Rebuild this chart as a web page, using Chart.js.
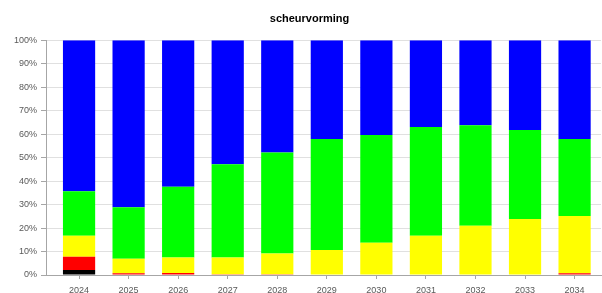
<!DOCTYPE html>
<html>
<head>
<meta charset="utf-8">
<script src="https://cdn.jsdelivr.net/npm/chart.js@4"></script>
<style>
  html, body { margin: 0; padding: 0; background: #fff; }
  #wrap { width: 602px; height: 293px; }
</style>
</head>
<body>
<div id="wrap"><canvas id="graphic"></canvas></div>
<script>
var years = ['2024', '2025', '2026', '2027', '2028', '2029', '2030', '2031', '2032', '2033', '2034'];

// shares in percent, per year, bottom to top
var black  = [2.1, 0, 0, 0, 0, 0, 0, 0, 0, 0, 0];
var red    = [5.7, 0.7, 0.8, 0.3, 0.3, 0.2, 0.2, 0.2, 0.2, 0.2, 0.7];
var yellow = [8.9, 6.2, 6.6, 7.1, 8.9, 10.4, 13.5, 16.5, 20.8, 23.6, 24.4];
var green  = [19.0, 22.0, 30.2, 39.8, 43.0, 47.3, 45.9, 46.3, 42.8, 38.0, 32.8];
var blue   = [64.3, 71.1, 62.4, 52.8, 47.8, 42.1, 40.4, 37.0, 36.2, 38.2, 42.1];

var yTicks = ['0%', '10%', '20%', '30%', '40%', '50%', '60%', '70%', '80%', '90%', '100%'];

Chart.defaults.font.family = 'Liberation Sans, Arial, sans-serif';
Chart.defaults.font.size = 9;
Chart.defaults.color = '#595959';

function set(label, data, color) {
    return {
        label: label,
        data: data,
        backgroundColor: color,
        borderWidth: 0,
        barPercentage: 0.65,
        categoryPercentage: 1
    };
}

// the title sits a bit right of the canvas centre, over the plot area
var shiftTitle = {
    id: 'shiftTitle',
    afterLayout: function (chart) {
        if (chart.titleBlock) chart.titleBlock.left += 18;
    }
};

var ctx = document.getElementById('graphic').getContext('2d');

var graphic = new Chart(ctx, {
    type: 'bar',
    data: {
        labels: years,
        datasets: [
            set('zwart', black, '#000000'),
            set('rood', red, '#ff0000'),
            set('geel', yellow, '#ffff00'),
            set('groen', green, '#00ff00'),
            set('blauw', blue, '#0000ff')
        ]
    },
    options: {
        responsive: true,
        maintainAspectRatio: false,
        animation: false,
        layout: { padding: { left: 0, right: 1, top: 0, bottom: 0 } },
        plugins: {
            legend: { display: false },
            tooltip: { enabled: false },
            title: {
                display: true,
                text: 'scheurvorming',
                color: '#000000',
                font: { size: 11, weight: 'bold' },
                padding: { top: 12, bottom: 15 }
            }
        },
        scales: {
            x: {
                stacked: true,
                grid: {
                    offset: false,
                    drawOnChartArea: false,
                    tickLength: 4,
                    color: '#a6a6a6'
                },
                border: { color: '#a6a6a6' },
                ticks: { padding: 6, maxRotation: 0 },
                // small empty gap between the value axis and the first category
                afterBuildTicks: function (s) {
                    s._startValue -= 0.167;
                    s._valueRange += 0.2;
                },
                afterFit: function (s) { s.height = 18; }
            },
            y: {
                stacked: true,
                min: 0,
                max: 100,
                grid: {
                    color: '#e0e0e0',
                    tickLength: 5,
                    tickColor: '#a6a6a6'
                },
                border: { color: '#a6a6a6' },
                ticks: {
                    stepSize: 10,
                    padding: 4,
                    callback: function (v, i) { return yTicks[i]; }
                },
                afterFit: function (s) { s.width = 46; }
            }
        }
    },
    plugins: [shiftTitle]
});
</script>
</body>
</html>
